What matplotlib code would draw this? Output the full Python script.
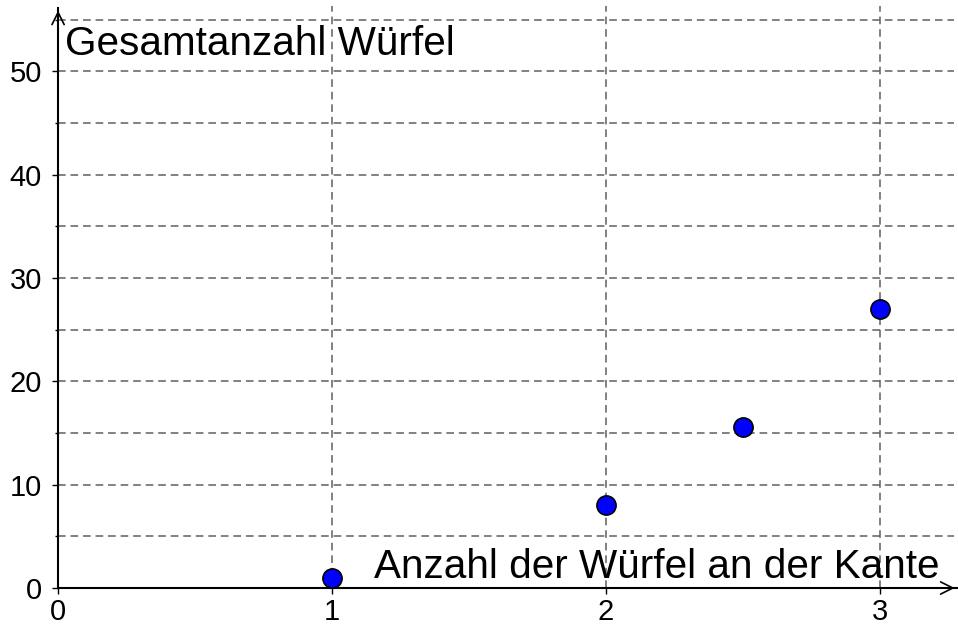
import matplotlib
matplotlib.use("Agg")
import matplotlib.pyplot as plt
from matplotlib.ticker import MultipleLocator

plt.rcParams['font.family'] = ['Liberation Sans', 'DejaVu Sans']

# Data
kante = [1, 2, 2.5, 3]
gesamt = [1, 8, 15.625, 27]
x_ticks = [0, 1, 2, 3]
y_ticks = [0, 10, 20, 30, 40, 50]
x_label = "Anzahl der Würfel an der Kante"
y_label = "Gesamtanzahl Würfel"

fig = plt.figure(figsize=(9.58, 6.28), dpi=100)
ax = fig.add_axes([0, 0, 1, 1])
xmin, xmax = -0.212, 3.285
ymin, ymax = -3.87, 56.9
ax.set_xlim(xmin, xmax)
ax.set_ylim(ymin, ymax)

grid_kw = dict(color='#5f5f5f', linewidth=1.1, linestyle=(0, (5, 3.2)), zorder=1)
# horizontal grid every 5
for yv in range(5, 56, 5):
    ax.hlines(yv, 0, 3.27, **grid_kw)
for xv in x_ticks[1:]:
    ax.vlines(xv, 0, 56.3, **grid_kw)

for s in ['top', 'right']:
    ax.spines[s].set_visible(False)
ax.spines['left'].set_position(('data', 0))
ax.spines['bottom'].set_position(('data', 0))
ax.spines['left'].set_bounds(0, 56.1)
ax.spines['bottom'].set_bounds(0, 3.28)
for s in ['left', 'bottom']:
    ax.spines[s].set_linewidth(1.5)
    ax.spines[s].set_zorder(2)

ax.set_xticks(x_ticks)
ax.set_yticks(y_ticks)
ax.yaxis.set_minor_locator(MultipleLocator(5))
ax.tick_params(axis='both', which='major', direction='out', length=4.5, width=1.0,
               labelsize=21, colors='black')
ax.tick_params(axis='x', which='major', pad=3)
ax.tick_params(axis='y', which='major', pad=7)
ax.tick_params(axis='y', which='minor', direction='out', length=2.5, width=1.0)

# arrows
ax.annotate('', xy=(3.283, 0), xytext=(3.20, 0),
            arrowprops=dict(arrowstyle='->', color='black', lw=1.2,
                            mutation_scale=22), zorder=3)
ax.annotate('', xy=(0, 56.15), xytext=(0, 53),
            arrowprops=dict(arrowstyle='->', color='black', lw=1.2,
                            mutation_scale=22), zorder=3)

ax.scatter(kante, gesamt, s=190, color='#0000ff', edgecolors='black',
           linewidths=1.2, zorder=5, clip_on=False)

ax.text(0.026, 51.6, y_label, fontsize=29.2, ha='left', va='baseline', color='black')
ax.text(3.219, 0.97, x_label, fontsize=29.2, ha='right', va='baseline', color='black')

fig.savefig('out.png', dpi=100)
